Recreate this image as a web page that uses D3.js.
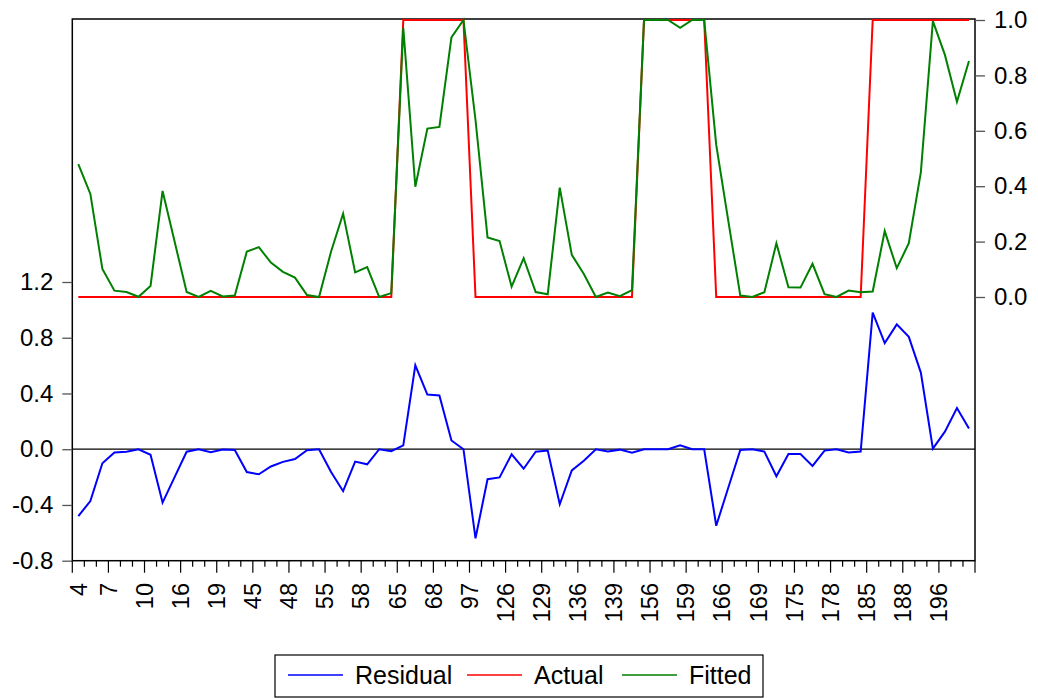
<!DOCTYPE html>
<html>
<head>
<meta charset="utf-8">
<script src="https://cdn.jsdelivr.net/npm/d3@7"></script>
<style>
  html, body { margin: 0; padding: 0; background: #fff; }
  svg { display: block; font-family: "Liberation Sans", Arial, sans-serif; }
</style>
</head>
<body>
<svg id="chart" width="1038" height="698"></svg>
<script>
// Observation identifiers (undated workfile, irregular ids)
const obsIds = [4,5,6,7,8,9,10,12,14,16,17,18,19,20,44,45,46,47,48,50,53,55,56,57,58,60,63,65,66,67,68,70,95,97,100,120,126,127,128,129,132,134,136,137,138,139,150,155,156,157,158,159,162,164,166,167,168,169,172,174,175,176,177,178,180,183,185,186,187,188,190,193,196,198,199];

// Tick labels shown every 3rd observation
const xTickLabels = ["4","7","10","16","19","45","48","55","58","65","68","97","126","129","136","139","156","159","166","169","175","178","185","188","196"];

const actual = [0,0,0,0,0,0,0,0,0,0,0,0,0,0,0,0,0,0,0,0,0,0,0,0,0,0,0,
  1,1,1,1,1,1,
  0,0,0,0,0,0,0,0,0,0,0,0,0,0,
  1,1,1,1,1,1,
  0,0,0,0,0,0,0,0,0,0,0,0,0,
  1,1,1,1,1,1,1,1,1];

const fitted = [0.480,0.372,0.101,0.023,0.018,0.001,0.040,0.383,0.200,0.018,
  0.000,0.022,0.002,0.005,0.164,0.180,0.124,0.091,0.070,0.007,
  0.000,0.164,0.301,0.089,0.108,0.000,0.014,0.972,0.398,0.608,
  0.614,0.937,1.000,0.639,0.215,0.202,0.037,0.140,0.018,0.010,
  0.395,0.152,0.083,0.000,0.016,0.003,0.025,1.000,1.000,1.000,
  0.972,1.000,1.000,0.549,0.276,0.005,0.000,0.017,0.194,0.035,
  0.034,0.120,0.010,0.000,0.023,0.017,0.020,0.238,0.104,0.194,
  0.450,0.996,0.874,0.705,0.852];

const residual = [-0.480,-0.372,-0.101,-0.023,-0.018,-0.001,-0.040,-0.383,-0.200,-0.018,
  0.000,-0.022,-0.002,-0.005,-0.164,-0.180,-0.124,-0.091,-0.070,-0.007,
  0.000,-0.164,-0.301,-0.089,-0.108,0.000,-0.014,0.028,0.602,0.392,
  0.386,0.063,0.000,-0.639,-0.215,-0.202,-0.037,-0.140,-0.018,-0.010,
  -0.395,-0.152,-0.083,0.000,-0.016,-0.003,-0.025,0.000,0.000,0.000,
  0.028,0.000,0.000,-0.549,-0.276,-0.005,0.000,-0.017,-0.194,-0.035,
  -0.034,-0.120,-0.010,0.000,-0.023,-0.017,0.980,0.762,0.896,0.806,
  0.550,0.004,0.126,0.295,0.148];

const leftTicks = [-0.8,-0.4,0.0,0.4,0.8,1.2];
const rightTicks = [0.0,0.2,0.4,0.6,0.8,1.0];

const seriesNames = ["Residual","Actual","Fitted"];
const seriesColors = ["#0000ff","#ff0000","#008000"];

// ---- layout ----
const svg = d3.select("#chart");
const L = 72.3, R = 975, T = 19, B = 560.7;

const x = d3.scalePoint().domain(d3.range(obsIds.length)).range([L, R]).padding(0.5);
const step = x.step();

const yRes = d3.scaleLinear().domain([-0.8, 1.2]).range([B, 282]);
const yAF = d3.scaleLinear().domain([0, 1]).range([297, 20]);

const fmt = d => d.toFixed(1);

// frame
svg.append("rect").attr("x", L).attr("y", T).attr("width", R - L).attr("height", B - T)
  .attr("fill", "none").attr("stroke", "#000").attr("stroke-width", 1.5);

// zero line for residual
svg.append("line").attr("x1", L).attr("x2", R).attr("y1", yRes(0)).attr("y2", yRes(0))
  .attr("stroke", "#000").attr("stroke-width", 1.3);

// left axis
const gl = svg.append("g").attr("transform", `translate(${L},0)`)
  .call(d3.axisLeft(yRes).tickValues(leftTicks).tickSize(10).tickPadding(9).tickFormat(fmt));
gl.select(".domain").remove();
gl.selectAll("line").attr("stroke", "#555").attr("stroke-width", 1.3);
gl.selectAll("text").attr("font-size", 24).attr("fill", "#000").attr("font-family", "Liberation Sans, Arial, sans-serif");

// right axis
const gr = svg.append("g").attr("transform", `translate(${R},0)`)
  .call(d3.axisRight(yAF).tickValues(rightTicks).tickSize(10).tickPadding(9).tickFormat(fmt));
gr.select(".domain").remove();
gr.selectAll("line").attr("stroke", "#555").attr("stroke-width", 1.3);
gr.selectAll("text").attr("font-size", 24).attr("fill", "#000").attr("font-family", "Liberation Sans, Arial, sans-serif");

// x ticks (between observations)
const boundaries = d3.range(obsIds.length + 1);
svg.append("g").selectAll("line").data(boundaries).join("line")
  .attr("x1", k => L + k * step).attr("x2", k => L + k * step)
  .attr("y1", B).attr("y2", k => B + (k % 3 === 0 ? 12 : 6))
  .attr("stroke", "#000").attr("stroke-width", 1.2);

// x labels
svg.append("g").selectAll("text").data(xTickLabels).join("text")
  .attr("transform", (d, i) => {
    const px = i === 0 ? x(0) : L + i * 3 * step;
    return `translate(${px},583) rotate(-90)`;
  })
  .attr("text-anchor", "end")
  .attr("dy", "0.35em")
  .attr("font-size", 23.5)
  .attr("fill", "#000")
  .text(d => d);

// lines
const idx = d3.range(obsIds.length);
const lineRes = d3.line().x(i => x(i)).y(i => yRes(residual[i]));
const lineAF = arr => d3.line().x(i => x(i)).y(i => yAF(arr[i]));

svg.append("path").datum(idx).attr("d", lineRes)
  .attr("fill", "none").attr("stroke", seriesColors[0]).attr("stroke-width", 2);
svg.append("path").datum(idx).attr("d", lineAF(actual))
  .attr("fill", "none").attr("stroke", seriesColors[1]).attr("stroke-width", 2);
svg.append("path").datum(idx).attr("d", lineAF(fitted))
  .attr("fill", "none").attr("stroke", seriesColors[2]).attr("stroke-width", 2);

// legend
const lg = svg.append("g");
lg.append("rect").attr("x", 275).attr("y", 655).attr("width", 488).attr("height", 42)
  .attr("fill", "#fff").attr("stroke", "#000").attr("stroke-width", 1.2);
const legX = [288, 467, 622];
seriesNames.forEach((name, i) => {
  lg.append("line").attr("x1", legX[i]).attr("x2", legX[i] + 55)
    .attr("y1", 675).attr("y2", 675).attr("stroke", seriesColors[i]).attr("stroke-width", 1.5);
  lg.append("text").attr("x", legX[i] + 67).attr("y", 675).attr("dy", "0.35em")
    .attr("font-size", 25).attr("fill", "#000").text(name);
});
</script>
</body>
</html>
